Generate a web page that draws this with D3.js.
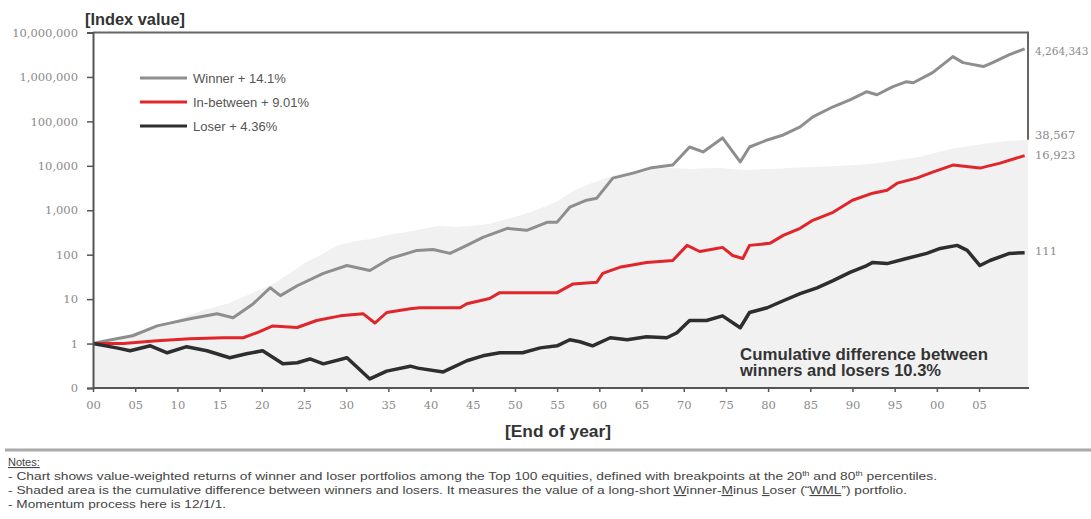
<!DOCTYPE html>
<html lang="en">
<head>
  <meta charset="UTF-8">
  <title>Winner / Loser momentum portfolios</title>
  <script src="https://d3js.org/d3.v7.min.js"></script>
  <style>
    body {
      margin: 0;
      background: #ffffff;
      overflow: hidden;
    }
    svg {
      display: block;
    }
    .tick-label {
      font-family: "DejaVu Serif", serif;
      font-size: 11.5px;
      fill: #8a8a8a;
    }
    .legend-text {
      font-family: "Liberation Sans", Arial, sans-serif;
      font-size: 13px;
      fill: #555;
    }
    .note {
      font-family: "Liberation Sans", Arial, sans-serif;
      font-size: 11px;
      fill: #444;
    }
  </style>
</head>
<body>
  <svg id="chart" width="1091" height="519"></svg>

  <script>
    // Series: [year, index value]
    const winner = [
      [1900, 1], [1902, 1.2], [1904.7, 1.5], [1907.6, 2.5], [1909.5, 3.0], [1911.5, 3.6],
      [1914.7, 4.7], [1916.6, 3.8], [1919.0, 7.9], [1921.0, 18], [1922.2, 12], [1924.2, 20],
      [1927.3, 38], [1930.1, 57], [1932.8, 44], [1935.2, 82], [1938.4, 125], [1940.3, 131],
      [1942.3, 107], [1944.3, 162], [1946.2, 245], [1949.1, 392], [1951.4, 353], [1953.8, 535],
      [1955.0, 540], [1956.5, 1170], [1958.5, 1680], [1959.7, 1870], [1961.6, 5290], [1964.0, 6860],
      [1966.0, 8890], [1968.7, 10400], [1970.7, 26500], [1972.3, 20500], [1974.6, 42400],
      [1976.7, 12200], [1977.8, 26500], [1979.9, 38200], [1981.8, 49500], [1983.8, 75200],
      [1985.3, 126000], [1987.7, 213000], [1989.7, 306000], [1991.7, 465000], [1992.9, 397000],
      [1994.8, 603000], [1996.4, 782000], [1997.2, 741000], [1999.5, 1250000], [2001.9, 2870000],
      [2003.1, 2100000], [2005.5, 1710000], [2006.6, 2100000], [2008.6, 3180000], [2010.4, 4264343]
    ];

    const inBetween = [
      [1900, 1], [1903.6, 1.0], [1907.6, 1.15], [1911.5, 1.28], [1915.4, 1.35], [1917.8, 1.35],
      [1919.4, 1.75], [1921.3, 2.5], [1924.2, 2.3], [1926.5, 3.3], [1929.3, 4.2], [1932.0, 4.7],
      [1933.4, 2.9], [1934.8, 5.0], [1937.6, 6.1], [1938.7, 6.4], [1943.5, 6.4], [1944.3, 7.9],
      [1947.0, 10.3], [1948.2, 14], [1955.0, 14], [1956.9, 22], [1959.7, 24], [1960.4, 38],
      [1962.4, 52], [1965.6, 67], [1968.7, 74], [1970.4, 162], [1971.9, 118], [1973.9, 138],
      [1974.6, 146], [1975.8, 96], [1977.0, 82], [1977.8, 162], [1980.2, 180], [1981.8, 272],
      [1983.8, 392], [1985.3, 594], [1987.7, 900], [1990.0, 1680], [1992.4, 2420], [1994.1, 2830],
      [1995.3, 4070], [1997.6, 5280], [1999.5, 7230], [2001.9, 10400], [2005.1, 8890],
      [2007.5, 11500], [2010.4, 16923]
    ];

    const loser = [
      [1900, 1], [1902.8, 0.8], [1904.4, 0.69], [1906.8, 0.89], [1908.8, 0.62], [1911.1, 0.85],
      [1913.5, 0.69], [1916.2, 0.48], [1918.2, 0.59], [1920.1, 0.69], [1922.5, 0.35], [1924.2, 0.37],
      [1925.7, 0.45], [1927.3, 0.35], [1930.1, 0.48], [1932.8, 0.16], [1934.8, 0.24], [1937.6, 0.31],
      [1938.5, 0.28], [1941.5, 0.23], [1944.3, 0.41], [1946.2, 0.53], [1948.2, 0.62], [1950.9, 0.62],
      [1953.0, 0.8], [1955.0, 0.89], [1956.5, 1.22], [1957.7, 1.1], [1959.2, 0.89], [1961.3, 1.35],
      [1963.3, 1.22], [1965.6, 1.42], [1968.0, 1.35], [1969.2, 1.75], [1970.7, 3.3], [1972.7, 3.3],
      [1974.6, 4.2], [1976.7, 2.27], [1977.8, 5.0], [1979.9, 6.4], [1981.8, 9.2], [1983.8, 13.3],
      [1985.8, 18], [1987.7, 26], [1989.7, 40], [1991.7, 57], [1992.4, 67], [1994.1, 63],
      [1996.4, 82], [1998.8, 107], [2000.4, 138], [2002.4, 162], [2003.6, 125], [2005.1, 57],
      [2006.3, 74], [2008.6, 107], [2010.4, 111]
    ];

    // Cumulative difference (WML), the shaded area
    const wml = [
      [1900, 1], [1903, 1.4], [1906, 2], [1910, 3.5], [1913, 5.6], [1916, 8], [1919, 14],
      [1921, 20], [1923, 35], [1925, 63], [1927, 100], [1929, 160], [1931, 200], [1933, 225],
      [1935, 280], [1937, 320], [1939, 380], [1941, 450], [1943, 420], [1945, 450], [1947, 500],
      [1949, 630], [1951, 800], [1953, 1100], [1955, 1600], [1957, 2800], [1959, 4000],
      [1961, 5500], [1963, 7000], [1965, 8000], [1968, 9000], [1971, 8500], [1974, 9000],
      [1977, 8000], [1980, 8500], [1983, 9000], [1986, 9500], [1989, 10000], [1992, 11000],
      [1995, 13000], [1998, 16000], [2000, 20000], [2002, 25000], [2004, 28000], [2006, 32000],
      [2008, 35500], [2010.8, 38567]
    ];

    const yTicks = [0.1, 1, 10, 100, 1000, 10000, 100000, 1000000, 10000000];
    const xTicks = d3.range(1900, 2006, 5);

    const legendItems = [
      {label: "Winner + 14.1%", color: "#8e8e8e"},
      {label: "In-between + 9.01%", color: "#e0262b"},
      {label: "Loser + 4.36%", color: "#2e2e2e"}
    ];

    const endLabels = [
      {text: "4,264,343", value: 4264343, dy: 3, size: 10.5},
      {text: "38,567", value: 38567, dy: -4, size: 11.5},
      {text: "16,923", value: 16923, dy: 0, size: 11.5},
      {text: "111", value: 111, dy: -1, size: 11.5}
    ];

    const svg = d3.select("#chart");
    const plotLeft = 93, plotRight = 1028, plotTop = 32.5, plotBottom = 388;

    const x = d3.scaleLinear().domain([1900, 2010.8]).range([plotLeft, plotRight]);
    const y = d3.scaleLog().domain([0.1, 1e7]).range([plotBottom, plotTop]);

    const fmt = d3.format(",");

    // Frame: top and right borders
    svg.append("line")
      .attr("x1", plotLeft).attr("x2", plotRight + 1)
      .attr("y1", plotTop).attr("y2", plotTop)
      .attr("stroke", "#666").attr("stroke-width", 2);
    svg.append("line")
      .attr("x1", plotRight).attr("x2", plotRight)
      .attr("y1", plotTop).attr("y2", y(wml[wml.length - 1][1]))
      .attr("stroke", "#666").attr("stroke-width", 2);

    // Shaded area (cumulative difference)
    const area = d3.area()
      .x(d => x(d[0]))
      .y0(plotBottom)
      .y1(d => y(d[1]));
    svg.append("path")
      .datum(wml)
      .attr("d", area)
      .attr("fill", "#f1f1f1");

    // Lines
    const line = d3.line().x(d => x(d[0])).y(d => y(d[1]));
    svg.append("path").datum(winner).attr("d", line)
      .attr("fill", "none").attr("stroke", "#8e8e8e").attr("stroke-width", 3)
      .attr("stroke-linejoin", "round");
    svg.append("path").datum(inBetween).attr("d", line)
      .attr("fill", "none").attr("stroke", "#e0262b").attr("stroke-width", 3)
      .attr("stroke-linejoin", "round");
    svg.append("path").datum(loser).attr("d", line)
      .attr("fill", "none").attr("stroke", "#2e2e2e").attr("stroke-width", 3.5)
      .attr("stroke-linejoin", "round");

    // Y axis
    const yAxis = svg.append("g")
      .attr("transform", `translate(${plotLeft},0)`)
      .call(d3.axisLeft(y).tickValues(yTicks).tickSize(6).tickPadding(9)
        .tickFormat(d => d < 1 ? "0" : fmt(d)));
    yAxis.select(".domain").attr("stroke", "#555").attr("stroke-width", 2);
    yAxis.selectAll(".tick line").attr("stroke", "#555").attr("stroke-width", 1.5);
    yAxis.selectAll(".tick text").attr("class", "tick-label").attr("fill", null);

    // X axis
    const xAxis = svg.append("g")
      .attr("transform", `translate(0,${plotBottom})`)
      .call(d3.axisBottom(x).tickValues(xTicks).tickSize(4).tickPadding(9)
        .tickFormat(d => String(d % 100).padStart(2, "0")));
    xAxis.select(".domain").attr("stroke", "#555").attr("stroke-width", 2)
      .attr("d", `M${plotLeft},0H${plotRight + 1}`);
    xAxis.selectAll(".tick line").attr("stroke", "#555").attr("stroke-width", 1.5);
    xAxis.selectAll(".tick text").attr("class", "tick-label").attr("fill", null);

    // Titles
    svg.append("text")
      .attr("x", 85).attr("y", 25)
      .attr("font-family", "Liberation Sans, Arial, sans-serif")
      .attr("font-size", 16).attr("font-weight", "bold").attr("fill", "#333")
      .attr("textLength", 100).attr("lengthAdjust", "spacingAndGlyphs")
      .text("[Index value]");
    svg.append("text")
      .attr("x", 505).attr("y", 437)
      .attr("font-family", "Liberation Sans, Arial, sans-serif")
      .attr("font-size", 16).attr("font-weight", "bold").attr("fill", "#333")
      .attr("textLength", 106).attr("lengthAdjust", "spacingAndGlyphs")
      .text("[End of year]");

    // Legend
    const legend = svg.append("g");
    legendItems.forEach((d, i) => {
      const ly = 78 + i * 24;
      legend.append("line")
        .attr("x1", 140).attr("x2", 187).attr("y1", ly).attr("y2", ly)
        .attr("stroke", d.color).attr("stroke-width", 3);
      legend.append("text")
        .attr("class", "legend-text")
        .attr("x", 193).attr("y", ly + 4.5)
        .text(d.label);
    });

    // End-of-line values
    endLabels.forEach(d => {
      svg.append("text")
        .attr("class", "tick-label")
        .attr("x", 1035)
        .attr("y", y(d.value) + d.dy)
        .attr("dominant-baseline", "middle")
        .style("font-size", d.size + "px")
        .text(d.text);
    });

    // Annotation
    const ann = svg.append("text")
      .attr("font-family", "Liberation Sans, Arial, sans-serif")
      .attr("font-size", 16).attr("font-weight", "bold").attr("fill", "#333");
    ann.append("tspan").attr("x", 740).attr("y", 360)
      .attr("textLength", 248).attr("lengthAdjust", "spacingAndGlyphs")
      .text("Cumulative difference between");
    ann.append("tspan").attr("x", 740).attr("y", 376)
      .attr("textLength", 201).attr("lengthAdjust", "spacingAndGlyphs")
      .text("winners and losers  10.3%");

    // Notes
    svg.append("line")
      .attr("x1", 5).attr("x2", 1091).attr("y1", 450).attr("y2", 450)
      .attr("stroke", "#aaa").attr("stroke-width", 3);

    svg.append("text").attr("class", "note")
      .attr("x", 8).attr("y", 466)
      .attr("text-decoration", "underline")
      .text("Notes:");

    const n1 = svg.append("text").attr("class", "note")
      .attr("x", 8).attr("y", 480)
      .attr("textLength", 929).attr("lengthAdjust", "spacingAndGlyphs");
    n1.append("tspan").text("-  Chart shows value-weighted returns of winner and loser portfolios among the Top 100 equities, defined with breakpoints at the 20");
    n1.append("tspan").attr("font-size", 7).attr("dy", -4).text("th");
    n1.append("tspan").attr("dy", 4).text(" and 80");
    n1.append("tspan").attr("font-size", 7).attr("dy", -4).text("th");
    n1.append("tspan").attr("dy", 4).text(" percentiles.");

    const n2 = svg.append("text").attr("class", "note")
      .attr("x", 8).attr("y", 494)
      .attr("textLength", 899).attr("lengthAdjust", "spacingAndGlyphs");
    n2.append("tspan").text("-  Shaded area is the cumulative difference between winners and losers. It measures the value of a long-short ");
    n2.append("tspan").attr("text-decoration", "underline").text("W");
    n2.append("tspan").text("inner-");
    n2.append("tspan").attr("text-decoration", "underline").text("M");
    n2.append("tspan").text("inus ");
    n2.append("tspan").attr("text-decoration", "underline").text("L");
    n2.append("tspan").text("oser (\u201C");
    n2.append("tspan").attr("text-decoration", "underline").text("WML");
    n2.append("tspan").text("\u201D) portfolio.");

    svg.append("text").attr("class", "note")
      .attr("x", 8).attr("y", 508)
      .attr("textLength", 218).attr("lengthAdjust", "spacingAndGlyphs")
      .text("-  Momentum  process here is 12/1/1.");
  </script>
</body>
</html>
